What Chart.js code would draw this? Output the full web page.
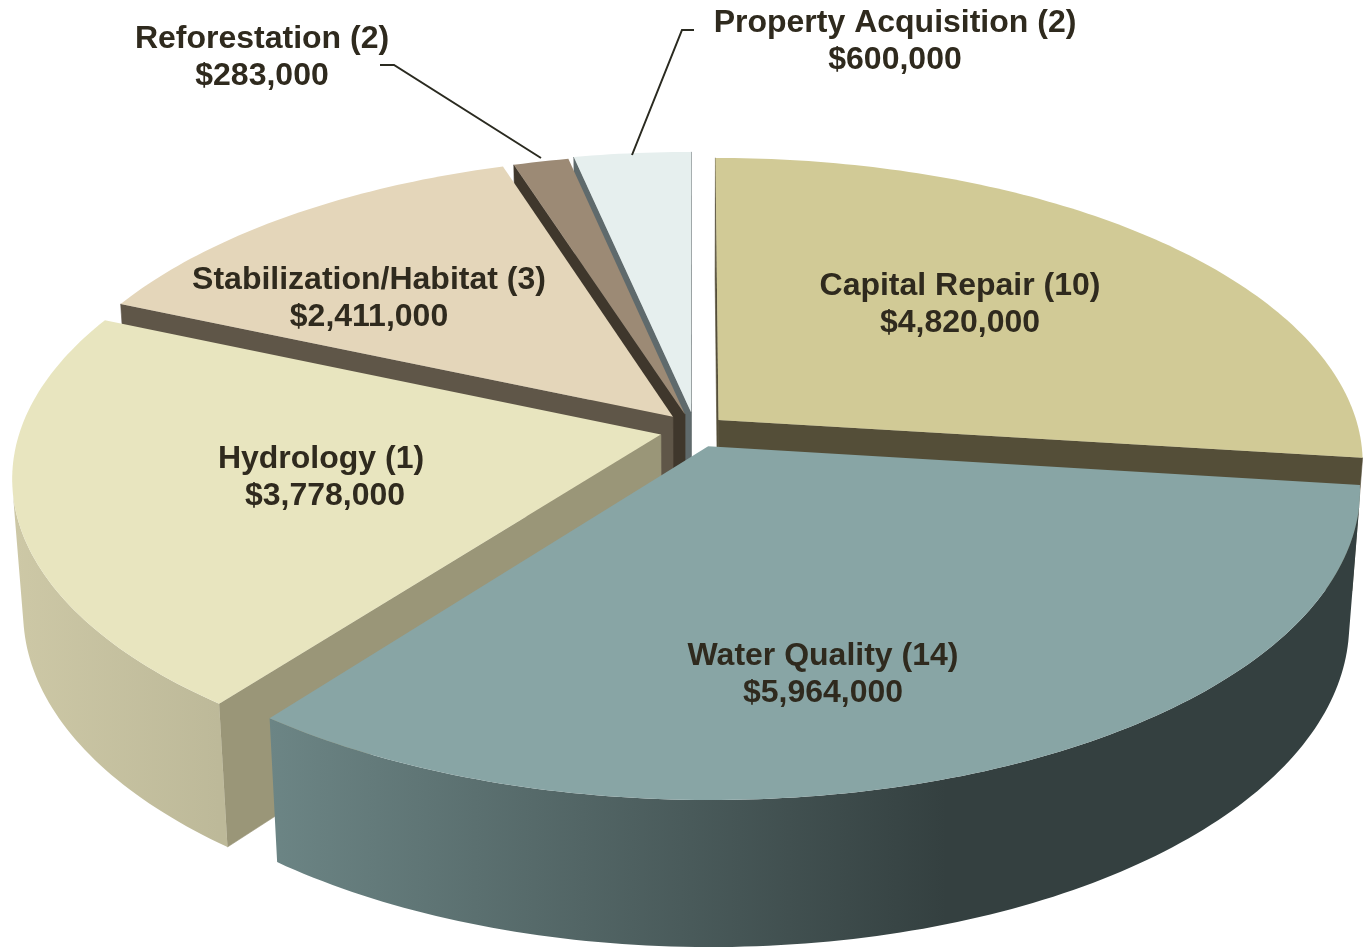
<!DOCTYPE html>
<html><head><meta charset="utf-8">
<style>html,body{margin:0;padding:0;background:#fff}#w{width:1364px;height:951px}</style>
<script src="https://cdn.jsdelivr.net/npm/chart.js@4/dist/chart.umd.min.js"></script>
</head><body><div id="w"><canvas id="c" width="1364" height="951"></canvas></div>
<script>
const categories=["Capital Repair","Water Quality","Hydrology","Stabilization/Habitat","Reforestation","Property Acquisition"];
const projectCounts=[10,14,1,3,2,2];
const fundingValues=[4820000,5964000,3778000,2411000,283000,600000];
const explodeX=[0.04,0.0235,-0.05,-0.0315,-0.0125,-0.003];
const explodeY=[-0.027,0.06,0.022,-0.038,-0.045,-0.053];
const topColors=["#d1ca96","#88a5a5","#e8e5bf","#e4d6ba","#9c8a75","#e6efee"];
const radialColors=["#544e38","#36403f","#9a9678","#5f5648","#3f372c","#5f6a6c"];
const wallStart=["#544e38","#6c8585","#cdc8a6","#5f5648","#3f372c","#5f6a6c"];
const wallEnd=["#544e38","#344040","#bdb999","#5f5648","#3f372c","#5f6a6c"];
const labelPos=[[960,286],[823,656],[321,459],[369,280],[262,39],[895,23]];
const valueShiftX=[0,0,4,0,0,0];
const leaders=[null,null,null,null,[[380,65],[394,65],[541,158]],[[694,30],[682,30],[632,155]]];
const paintOrder=[0,5,4,3,2,1];
const PROJ={cx:693,cy:428,a:640,b:300,k:0.137,m:0.016,h:134};
function project(X,Y,z){const w=1-PROJ.k*Y+PROJ.m*z;return [PROJ.cx+PROJ.a*X/w,PROJ.cy+(PROJ.b*Y+PROJ.h*z)/w];}
function poly(ctx,pts){ctx.beginPath();pts.forEach((p,i)=>i?ctx.lineTo(p[0],p[1]):ctx.moveTo(p[0],p[1]));ctx.closePath();}
function area(p){let s=0;for(let i=0;i<p.length;i++){const q=p[(i+1)%p.length];s+=p[i][0]*q[1]-q[0]*p[i][1];}return s;}
const pie3d={id:'pie3d',
 beforeDatasetDraw(chart){
  const ctx=chart.ctx,arcs=chart.getDatasetMeta(0).data;
  paintOrder.forEach(i=>{
   const e=arcs[i],s=e.startAngle,t=e.endAngle;
   const ox=explodeX[i],oy=explodeY[i],n=Math.max(4,Math.round((t-s)*60));
   const rim=[];for(let j=0;j<=n;j++){const a=s+(t-s)*j/n;rim.push([ox+Math.cos(a),oy+Math.sin(a)]);}
   const top=[[ox,oy]].concat(rim).map(p=>project(p[0],p[1],0));
   const P=(q,z)=>project(q[0],q[1],z),apex=[ox,oy];
   const face=(q1,q2)=>[P(q1,0),P(q2,0),P(q2,1),P(q1,1)];
   [face(apex,rim[0]),face(rim[n],apex)].forEach(f=>{if(area(f)<0){poly(ctx,f);ctx.fillStyle=radialColors[i];ctx.strokeStyle=radialColors[i];ctx.lineWidth=.6;ctx.fill();ctx.stroke();}});
   const xs=rim.map(q=>P(q,0)[0]);
   const g=ctx.createLinearGradient(Math.min(...xs),0,Math.max(...xs),0);
   g.addColorStop(0,wallStart[i]);g.addColorStop(i==1?.62:1,wallEnd[i]);g.addColorStop(1,wallEnd[i]);
   const upper=[],lower=[];
   for(let j=0;j<n;j++){const f=face(rim[j],rim[j+1]);if(area(f)<0){if(!upper.length){upper.push(f[0]);lower.push(f[3]);}upper.push(f[1]);lower.push(f[2]);}}
   if(upper.length){poly(ctx,upper.concat(lower.reverse()));ctx.fillStyle=g;ctx.fill();}
   poly(ctx,top);ctx.fillStyle=topColors[i];ctx.fill();
  });
  return false;
 },
 afterDatasetsDraw(chart){
  const ctx=chart.ctx;
  ctx.strokeStyle='#2a2a20';ctx.lineWidth=2;
  leaders.forEach(l=>{if(!l)return;ctx.beginPath();l.forEach((p,i)=>i?ctx.lineTo(p[0],p[1]):ctx.moveTo(p[0],p[1]));ctx.stroke();});
  ctx.fillStyle='#2f2a1e';ctx.textAlign='center';ctx.textBaseline='middle';ctx.font='bold 32px "Liberation Sans"';
  categories.forEach((c,i)=>{const [x,y]=labelPos[i];
   ctx.fillText(c+' ('+projectCounts[i]+')',x,y);
   ctx.fillText('$'+fundingValues[i].toLocaleString('en-US'),x+valueShiftX[i],y+37);});
 }
};
new Chart(document.getElementById('c'),{type:'pie',
 data:{labels:categories,datasets:[{data:fundingValues,backgroundColor:topColors,borderWidth:0}]},
 options:{responsive:false,animation:false,plugins:{legend:{display:false},tooltip:{enabled:false}},layout:{padding:0},
  elements:{arc:{borderWidth:0}}},
 plugins:[pie3d]});
</script></body></html>
